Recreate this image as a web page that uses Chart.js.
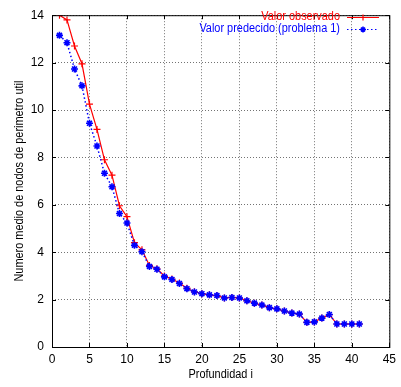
<!DOCTYPE html>
<html>
<head>
<meta charset="utf-8">
<script src="https://cdn.jsdelivr.net/npm/chart.js@4.4.0/dist/chart.umd.min.js"></script>
<style>
  html, body { margin: 0; padding: 0; background: #fff; }
  #wrap { width: 401px; height: 387px; }
</style>
</head>
<body>
<div id="wrap"><canvas id="perimetroChart" width="401" height="387"></canvas></div>
<script>
const profundidad = [1, 2, 3, 4, 5, 6, 7, 8, 9, 10, 11, 12, 13, 14, 15, 16, 17, 18, 19, 20,
  21, 22, 23, 24, 25, 26, 27, 28, 29, 30, 31, 32, 33, 34, 35, 36, 37, 38, 39, 40, 41];

const valorObservado = [14.0, 13.8, 12.7, 11.95, 10.25, 9.18, 7.9, 7.25, 5.96, 5.5,
  4.4, 4.1, 3.44, 3.3, 3.0, 2.87, 2.7, 2.48, 2.33, 2.25,
  2.2, 2.17, 2.07, 2.09, 2.07, 1.95, 1.85, 1.77, 1.66, 1.61,
  1.52, 1.43, 1.39, 1.04, 1.06, 1.22, 1.37, 0.97, 0.97, 0.97, 0.97];

const valorPredecido = [13.15, 12.84, 11.73, 11.02, 9.44, 8.48, 7.33, 6.76, 5.63, 5.23,
  4.29, 4.02, 3.4, 3.28, 2.96, 2.85, 2.68, 2.46, 2.32, 2.25,
  2.2, 2.17, 2.07, 2.09, 2.07, 1.95, 1.85, 1.77, 1.66, 1.61,
  1.52, 1.43, 1.39, 1.04, 1.06, 1.22, 1.37, 0.97, 0.97, 0.97, 0.97];

const ticksX = [0, 5, 10, 15, 20, 25, 30, 35, 40, 45];
const ticksY = [0, 2, 4, 6, 8, 10, 12, 14];

const tituloX = "Profundidad i";
const tituloY = "Numero medio de nodos de perimetro util";
const leyenda = ["Valor observado", "Valor predecido (problema 1)"];

const ROJO = "#ff0000";
const AZUL = "#0000ff";
const FUENTE = "'Liberation Sans', Arial, sans-serif";
const ESTRECHO = 0.91; // gnuplot usa una helvetica mas estrecha

function textoEstrecho(ctx, texto, x, y) {
  ctx.save();
  ctx.translate(x, y);
  ctx.scale(ESTRECHO, 1);
  ctx.fillText(texto, 0, 0);
  ctx.restore();
}

// marco, ticks hacia dentro, titulos y leyenda al estilo gnuplot
const marcoPlugin = {
  id: "marco",
  afterDraw(chart) {
    const { ctx, chartArea: a, scales } = chart;
    ctx.save();
    ctx.strokeStyle = "#000";
    ctx.lineWidth = 1;
    ctx.strokeRect(a.left + 0.5, a.top + 0.5, a.right - a.left, a.bottom - a.top);

    ctx.beginPath();
    ticksX.forEach((v) => {
      const px = Math.round(scales.x.getPixelForValue(v)) + 0.5;
      ctx.moveTo(px, a.bottom); ctx.lineTo(px, a.bottom - 4);
      ctx.moveTo(px, a.top); ctx.lineTo(px, a.top + 4);
    });
    ticksY.forEach((v) => {
      const py = Math.round(scales.y.getPixelForValue(v)) + 0.5;
      ctx.moveTo(a.left, py); ctx.lineTo(a.left + 4, py);
      ctx.moveTo(a.right, py); ctx.lineTo(a.right - 4, py);
    });
    ctx.stroke();

    ctx.font = "12px " + FUENTE;
    ctx.fillStyle = "#000";
    ctx.textAlign = "center";
    ctx.textBaseline = "middle";
    textoEstrecho(ctx, tituloX, (a.left + a.right) / 2, 375);
    ctx.save();
    ctx.translate(20, (a.top + a.bottom) / 2);
    ctx.rotate(-Math.PI / 2);
    textoEstrecho(ctx, tituloY, 0, 0);
    ctx.restore();

    // leyenda
    ctx.textAlign = "right";
    ctx.fillStyle = ROJO;
    textoEstrecho(ctx, leyenda[0], 340, 17);
    ctx.fillStyle = AZUL;
    textoEstrecho(ctx, leyenda[1], 340, 29);

    ctx.strokeStyle = ROJO;
    ctx.lineWidth = 1.2;
    ctx.beginPath();
    ctx.moveTo(347, 17.5); ctx.lineTo(379, 17.5);
    ctx.moveTo(363, 14.5); ctx.lineTo(363, 20.5);
    ctx.stroke();

    ctx.strokeStyle = AZUL;
    ctx.setLineDash([1.5, 2.5]);
    ctx.beginPath();
    ctx.moveTo(347, 29.5); ctx.lineTo(379, 29.5);
    ctx.stroke();
    ctx.setLineDash([]);
    ctx.lineWidth = 1.5;
    ctx.beginPath();
    ctx.moveTo(360, 29.5); ctx.lineTo(366, 29.5);
    ctx.moveTo(363, 26.5); ctx.lineTo(363, 32.5);
    ctx.moveTo(361, 27.5); ctx.lineTo(365, 31.5);
    ctx.moveTo(365, 27.5); ctx.lineTo(361, 31.5);
    ctx.stroke();
    ctx.restore();
  },
};

const ctx = document.getElementById("perimetroChart");

new Chart(ctx.getContext("2d"), {
  type: "line",
  data: {
    datasets: [
      {
        label: leyenda[0],
        data: profundidad.map((x, i) => ({ x: x, y: valorObservado[i] })),
        borderColor: ROJO,
        backgroundColor: ROJO,
        borderWidth: 1.2,
        pointStyle: "cross",
        pointRadius: 3.5,
        pointBorderWidth: 1.2,
        tension: 0,
        order: 1,
      },
      {
        label: leyenda[1],
        data: profundidad.map((x, i) => ({ x: x, y: valorPredecido[i] })),
        borderColor: AZUL,
        backgroundColor: AZUL,
        borderWidth: 1.5,
        borderDash: [1.5, 2.5],
        pointStyle: "star",
        pointRadius: 3.5,
        pointBorderWidth: 1.6,
        tension: 0,
        order: 0,
      },
    ],
  },
  options: {
    responsive: false,
    animation: false,
    layout: { padding: { left: 0, right: 8, top: 7, bottom: 0 } },
    plugins: {
      legend: { display: false },
      tooltip: { enabled: false },
    },
    scales: {
      x: {
        type: "linear",
        min: 0,
        max: 45,
        afterFit: (scale) => { scale.height = 40; },
        afterBuildTicks: (scale) => { scale.ticks = ticksX.map((v) => ({ value: v })); },
        ticks: { color: "#000", padding: 5, font: { family: FUENTE, size: 12 } },
        grid: { color: "rgba(0,0,0,0.55)", drawTicks: false, lineWidth: 1 },
        border: { display: false, dash: [1, 2] },
      },
      y: {
        min: 0,
        max: 14,
        afterFit: (scale) => { scale.width = 52; },
        afterBuildTicks: (scale) => { scale.ticks = ticksY.map((v) => ({ value: v })); },
        ticks: { color: "#000", padding: 8, font: { family: FUENTE, size: 12 } },
        grid: { color: "rgba(0,0,0,0.55)", drawTicks: false, lineWidth: 1 },
        border: { display: false, dash: [1, 2] },
      },
    },
  },
  plugins: [marcoPlugin],
});
</script>
</body>
</html>
